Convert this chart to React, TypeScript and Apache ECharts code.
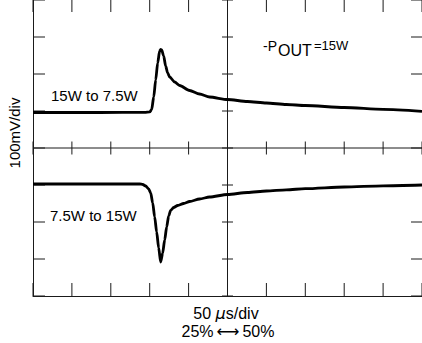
import React, { useEffect, useRef } from "react";
import * as echarts from "echarts";

// Time in divisions from screen centre (50 µs/div), −5 … 5
const upperTime = [-5, -3.282, -2.128, -2.0, -1.949, -1.897, -1.846, -1.795, -1.744, -1.718, -1.692, -1.641, -1.59, -1.538, -1.487, -1.359, -1.231, -0.974, -0.718, -0.462, 0, 0.513, 1, 1.513, 2, 3, 4, 5];
// Upper trace in divisions from screen centre (100 mV/div), −4 … 4
const upperVolt = [0.959, 0.959, 0.962, 0.975, 1.04, 1.378, 1.838, 2.297, 2.622, 2.662, 2.649, 2.486, 2.216, 2.027, 1.919, 1.784, 1.689, 1.554, 1.459, 1.378, 1.311, 1.257, 1.216, 1.176, 1.149, 1.095, 1.046, 0.992];

const lowerTime = [-5, -2.256, -2.179, -2.103, -2.026, -1.974, -1.923, -1.872, -1.821, -1.769, -1.718, -1.667, -1.615, -1.564, -1.513, -1.462, -1.385, -1.282, -1.128, -0.974, -0.718, -0.462, 0, 0.513, 1, 1.513, 2, 3, 4, 5];
const lowerVolt = [-0.973, -0.973, -0.986, -1.027, -1.108, -1.216, -1.486, -1.865, -2.27, -2.703, -3.081, -2.838, -2.486, -2.135, -1.838, -1.689, -1.608, -1.554, -1.5, -1.446, -1.378, -1.324, -1.257, -1.203, -1.162, -1.13, -1.1, -1.054, -1.022, -1.0];

// Graticule division marks
const xDivisions = [-5, -4, -3, -2, -1, 0, 1, 2, 3, 4, 5];
const yDivisions = [-4, -3, -2, -1, 0, 1, 2, 3, 4];

const upperLabel = "15W to 7.5W";
const lowerLabel = "7.5W to 15W";
const yAxisLabel = "100mV/div";
const xAxisLine1 = "{n|50 }{i|\u00b5}{n|s/div}";
const xAxisLine2 = "{n|25%}{a|\u27f7}{n|50%}";

const FONT = "'Liberation Sans', Arial, Helvetica, sans-serif";

export default function App() {
  const ref = useRef<HTMLDivElement>(null);
  useEffect(() => {
    if (!ref.current) return;
    const chart = echarts.init(ref.current, null, { renderer: "svg" });
    const toPairs = (xs: number[], ys: number[]) => xs.map((x, i) => [x, ys[i]]);
    const lineC = "#1a1a1a";
    const axisStyle = { color: lineC, width: 1 };
    const baseX = {
      type: "value" as const,
      min: -5,
      max: 5,
      interval: 1,
      axisLabel: { show: false },
      axisTick: { show: false },
      splitLine: { show: false },
    };
    const baseY = {
      type: "value" as const,
      min: -4,
      max: 4,
      interval: 1,
      axisLabel: { show: false },
      axisTick: { show: false },
      splitLine: { show: false },
    };
    const graticule = (_params: any, api: any) => {
      const [cx, cy] = api.coord([0, 0]);
      const xMin = xDivisions[0];
      const xMax = xDivisions[xDivisions.length - 1];
      const yMin = yDivisions[0];
      const yMax = yDivisions[yDivisions.length - 1];
      const top = api.coord([0, yMax])[1];
      const bottom = api.coord([0, yMin])[1];
      const left = api.coord([xMin, 0])[0];
      const right = api.coord([xMax, 0])[0];
      const style = { stroke: lineC, lineWidth: 1 };
      const ln = (x1: number, y1: number, x2: number, y2: number) => ({ type: "line", shape: { x1, y1, x2, y2 }, style });
      const children: any[] = [ln(cx, top, cx, bottom), ln(left, cy, right, cy)];
      xDivisions.forEach((v) => {
        const px = api.coord([v, 0])[0];
        children.push(ln(px, cy - 6.5, px, cy + 6.5));
        children.push(ln(px, bottom, px, bottom - 13));
        children.push(ln(px, top, px, top + 12));
      });
      yDivisions.forEach((v) => {
        const py = api.coord([0, v])[1];
        children.push(ln(cx - 5.5, py, cx + 5.5, py));
        children.push(ln(left, py, left + 12, py));
        children.push(ln(right, py, right - 11, py));
      });
      return { type: "group", children };
    };
    chart.setOption({
      animation: false,
      grid: { left: 33, top: 0, width: 390, height: 296, containLabel: false },
      xAxis: [{ ...baseX, position: "bottom", axisLine: { show: true, onZero: false, lineStyle: axisStyle } }],
      yAxis: [{ ...baseY, position: "left", axisLine: { show: true, onZero: false, lineStyle: axisStyle } }],
      series: [
        {
          type: "custom",
          xAxisIndex: 0,
          yAxisIndex: 0,
          data: [[0, 0]],
          renderItem: graticule,
          silent: true,
          clip: false,
          z: 2,
        },
        {
          type: "line",
          xAxisIndex: 0,
          yAxisIndex: 0,
          data: toPairs(upperTime, upperVolt),
          showSymbol: false,
          smooth: 0.25,
          smoothMonotone: "x",
          lineStyle: { color: "#000", width: 2.8 },
          z: 5,
        },
        {
          type: "line",
          xAxisIndex: 0,
          yAxisIndex: 0,
          data: toPairs(lowerTime, lowerVolt),
          showSymbol: false,
          smooth: 0.25,
          smoothMonotone: "x",
          lineStyle: { color: "#000", width: 2.8 },
          z: 5,
        },
      ],
      graphic: [
        { type: "text", x: 51, y: 95, style: { text: upperLabel, font: `15px ${FONT}`, fill: "#000", verticalAlign: "middle", align: "left" } },
        { type: "text", x: 50, y: 215, style: { text: lowerLabel, font: `15px ${FONT}`, fill: "#000", verticalAlign: "middle", align: "left" } },
        { type: "text", x: 263, y: 46, style: { text: "-P", font: `14px ${FONT}`, fill: "#000", verticalAlign: "middle", align: "left" } },
        { type: "text", x: 278, y: 50, style: { text: "OUT", font: `16px ${FONT}`, fill: "#000", verticalAlign: "middle", align: "left" } },
        { type: "text", x: 314, y: 45, style: { text: "=15W", font: `13px ${FONT}`, fill: "#000", verticalAlign: "middle", align: "left" } },
        { type: "text", x: 14, y: 133, rotation: Math.PI / 2, style: { text: yAxisLabel, font: `15px ${FONT}`, fill: "#000", verticalAlign: "middle", align: "center" } },
        {
          type: "text",
          x: 226,
          y: 313,
          style: {
            text: xAxisLine1,
            fill: "#000",
            verticalAlign: "middle",
            align: "center",
            rich: {
              n: { fontSize: 16, lineHeight: 14, fontFamily: FONT, fill: "#000" },
              i: { fontSize: 16, lineHeight: 14, fontFamily: "'DejaVu Sans', sans-serif", fontStyle: "oblique", fill: "#000" },
            },
          },
        },
        {
          type: "text",
          x: 228,
          y: 331,
          style: {
            text: xAxisLine2,
            fill: "#000",
            verticalAlign: "middle",
            align: "center",
            rich: {
              n: { fontSize: 16, lineHeight: 14, fontFamily: FONT, fill: "#000" },
              a: { fontSize: 16, lineHeight: 14, fontFamily: "'DejaVu Sans', sans-serif", fill: "#000", padding: [0, 3, 0, 3] },
            },
          },
        },
      ],
    });
    return () => chart.dispose();
  }, []);
  return <div ref={ref} style={{ position: "fixed", left: 0, top: 0, width: 422, height: 343, background: "#fff" }} />;
}
